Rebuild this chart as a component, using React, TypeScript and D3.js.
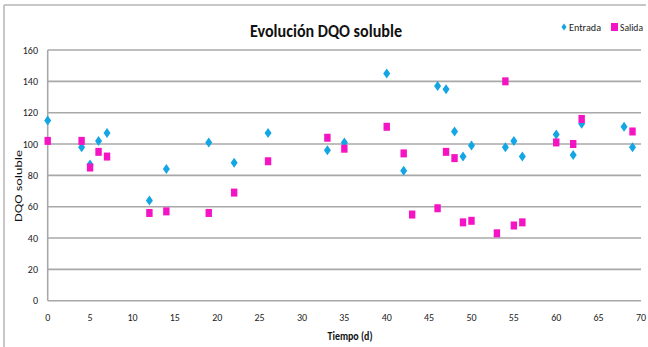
import React from "react";
import * as d3 from "d3";

// Days at which samples were taken, and soluble COD values for each stream
const entradaDias = [0, 4, 5, 6, 7, 12, 14, 19, 22, 26, 33, 35, 40, 42, 46, 47, 48, 49, 50, 54, 55, 56, 60, 62, 63, 68, 69];
const entradaDqo = [115, 98, 87, 102, 107, 64, 84, 101, 88, 107, 96, 101, 145, 83, 137, 135, 108, 92, 99, 98, 102, 92, 106, 93, 113, 111, 98];

const salidaDias = [0, 4, 5, 6, 7, 12, 14, 19, 22, 26, 33, 35, 40, 42, 43, 46, 47, 48, 49, 50, 53, 54, 55, 56, 60, 62, 63, 69];
const salidaDqo = [102, 102, 85, 95, 92, 56, 57, 56, 69, 89, 104, 97, 111, 94, 55, 59, 95, 91, 50, 51, 43, 140, 48, 50, 101, 100, 116, 108];

const xTicks = [0, 5, 10, 15, 20, 25, 30, 35, 40, 45, 50, 55, 60, 65, 70];
const yTicks = [0, 20, 40, 60, 80, 100, 120, 140, 160];

const W = 648;
const H = 347;
const FONT = "Carlito, 'Liberation Sans Narrow', 'DejaVu Sans Condensed', Lato, sans-serif";
const BLUE = "#14a6e4";
const PINK = "#f514c4";
const GRID = "#a8a8a8";

export default function App() {
  const x = d3.scaleLinear().domain([0, 70]).range([47.7, 641]);
  const y = d3.scaleLinear().domain([0, 160]).range([300.7, 50]);

  const entrada = entradaDias.map((d, i) => ({ d, v: entradaDqo[i] }));
  const salida = salidaDias.map((d, i) => ({ d, v: salidaDqo[i] }));

  const diamond = (cx: number, cy: number, w = 7, h = 10) =>
    `M${cx},${cy - h / 2}L${cx + w / 2},${cy}L${cx},${cy + h / 2}L${cx - w / 2},${cy}Z`;

  return (
    <div style={{ position: "absolute", left: 0, top: 0 }}>
      <svg width={W} height={H} style={{ display: "block", background: "#fff" }}>
        {/* chart frame */}
        <line x1={4} x2={646} y1={5} y2={5} stroke="#b4b4b4" strokeWidth={1.5} />
        <line x1={4} x2={4} y1={5} y2={H} stroke="#b4b4b4" strokeWidth={1.5} />

        {/* horizontal gridlines */}
        {yTicks.map((t) => (
          <line key={"g" + t} x1={x(0)} x2={x(70)} y1={y(t)} y2={y(t)} stroke={GRID} strokeWidth={1.6} />
        ))}
        {/* value axis line */}
        <line x1={x(0)} x2={x(0)} y1={y(160)} y2={y(0)} stroke={GRID} strokeWidth={1.6} />

        {/* y tick labels */}
        {yTicks.map((t) => (
          <text key={"yl" + t} x={38} y={y(t)} dy="0.35em" textAnchor="end" fontFamily={FONT} fontSize={10} fill="#222">
            {t}
          </text>
        ))}
        {/* x tick labels */}
        {xTicks.map((t) => (
          <text key={"xl" + t} x={x(t)} y={317} dy="0.35em" textAnchor="middle" fontFamily={FONT} fontSize={10} fill="#222">
            {t}
          </text>
        ))}

        {/* title */}
        <text x={326} y={37} textAnchor="middle" fontFamily={FONT} fontWeight="bold" fontSize={18} fill="#111"
          textLength={152} lengthAdjust="spacingAndGlyphs">
          Evolución DQO soluble
        </text>

        {/* axis titles */}
        <text x={350} y={336} dy="0.35em" textAnchor="middle" fontFamily={FONT} fontWeight="bold" fontSize={11} fill="#111"
          textLength={45} lengthAdjust="spacingAndGlyphs">
          Tiempo (d)
        </text>
        <text transform="translate(18.5,186) rotate(-90)" textAnchor="middle" dy="0.35em" fontFamily={FONT} fontSize={11} fill="#111"
          textLength={72} lengthAdjust="spacingAndGlyphs">
          DQO soluble
        </text>

        {/* series */}
        {entrada.map((p, i) => (
          <path key={"e" + i} d={diamond(x(p.d), y(p.v))} fill={BLUE} />
        ))}
        {salida.map((p, i) => (
          <rect key={"s" + i} x={x(p.d) - 3.2} y={y(p.v) - 4} width={6.4} height={8} fill={PINK} />
        ))}

        {/* legend */}
        <path d={diamond(564, 27, 5, 7)} fill={BLUE} />
        <text x={569} y={27} dy="0.35em" fontFamily={FONT} fontSize={10} fill="#222" textLength={32} lengthAdjust="spacingAndGlyphs">
          Entrada
        </text>
        <rect x={611} y={23} width={7} height={8} fill={PINK} />
        <text x={620} y={27} dy="0.35em" fontFamily={FONT} fontSize={10} fill="#222" textLength={23} lengthAdjust="spacingAndGlyphs">
          Salida
        </text>
      </svg>
    </div>
  );
}
